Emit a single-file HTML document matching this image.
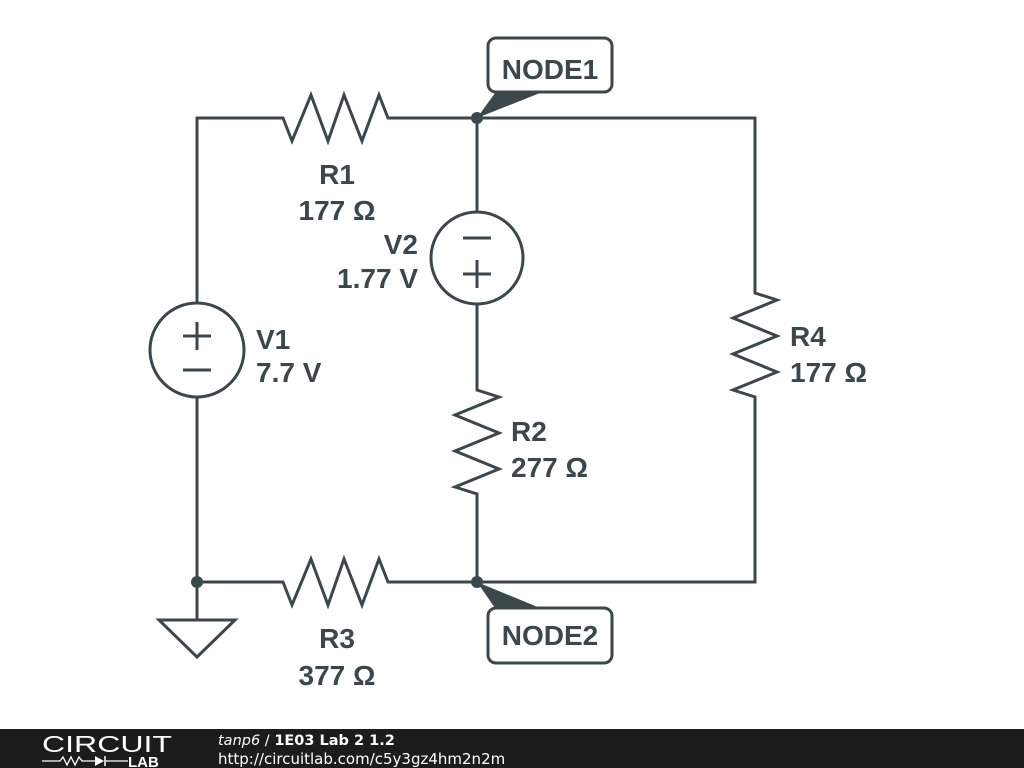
<!DOCTYPE html>
<html><head><meta charset="utf-8"><style>
html,body{margin:0;padding:0;background:#fff;width:1024px;height:768px;overflow:hidden}
svg{display:block}
.l{font-family:"Liberation Sans",Arial,sans-serif;font-weight:bold;font-size:28px;fill:#3c474c}
</style></head><body>
<svg width="1024" height="768" viewBox="0 0 1024 768">
<g fill="none" stroke="#3c474c" stroke-width="3" stroke-linejoin="miter">
<polyline points="197,303 197,118 283,118 292,141 311,95 328,141 344,95 362,141 379,95 388,118 755,118 755,293 777,300 733,318 777,336 733,354 777,372 733,390 755,397 755,582 388,582 379,559 362,605 344,559 328,605 311,559 292,605 283,582 197,582"/>
<line x1="197" y1="397" x2="197" y2="620"/>
<line x1="477" y1="118" x2="477" y2="212"/>
<polyline points="477,304 477,390 499,397 455,415 499,433 455,451 499,469 455,487 477,494 477,582"/>
<circle cx="197" cy="350" r="47"/>
<circle cx="477" cy="258" r="46"/>
<polygon points="159,620 235,620 197,657"/>
<line x1="183" y1="336" x2="211" y2="336"/><line x1="197" y1="322" x2="197" y2="350"/>
<line x1="183" y1="370" x2="211" y2="370"/>
<line x1="463" y1="238" x2="491" y2="238"/>
<line x1="463" y1="274" x2="491" y2="274"/><line x1="477" y1="260" x2="477" y2="288"/>
<rect x="488" y="38" width="124" height="54" rx="8"/>
<rect x="488" y="608" width="124" height="55" rx="8"/>
</g>
<g fill="#3c474c">
<circle cx="477" cy="118" r="6"/><circle cx="477" cy="582" r="6"/><circle cx="197" cy="582" r="6"/>
<polygon points="477,118 495,93 540,93"/>
<polygon points="477,582 495,608 540,608"/>
</g>
<text class="l" x="550" y="79" text-anchor="middle">NODE1</text>
<text class="l" x="550" y="645" text-anchor="middle">NODE2</text>
<text class="l" x="337" y="184" text-anchor="middle">R1</text>
<text class="l" x="337" y="220" text-anchor="middle">177 Ω</text>
<text class="l" x="418" y="254" text-anchor="end">V2</text>
<text class="l" x="418" y="288" text-anchor="end">1.77 V</text>
<text class="l" x="256" y="349">V1</text>
<text class="l" x="256" y="382">7.7 V</text>
<text class="l" x="511" y="441">R2</text>
<text class="l" x="511" y="477">277 Ω</text>
<text class="l" x="790" y="346">R4</text>
<text class="l" x="790" y="382">177 Ω</text>
<text class="l" x="337" y="648" text-anchor="middle">R3</text>
<text class="l" x="337" y="685" text-anchor="middle">377 Ω</text>
<rect x="0" y="729" width="1024" height="39" fill="#1c1c1c"/>
<text x="42" y="752" font-family="Liberation Sans,sans-serif" font-size="23" fill="#fff" textLength="130" lengthAdjust="spacingAndGlyphs">CIRCUIT</text>
<polyline points="42,761 60,761 63,757 67,765 71,757 75,765 79,757 82,761 95,761" fill="none" stroke="#fff" stroke-width="1.3"/>
<polygon points="95,756 95,766 104,761" fill="#fff"/>
<line x1="105" y1="756" x2="105" y2="766" stroke="#fff" stroke-width="1.5"/>
<line x1="105" y1="761" x2="128" y2="761" stroke="#fff" stroke-width="1.3"/>
<text x="128" y="767" font-family="Liberation Sans,sans-serif" font-size="15" font-weight="bold" fill="#fff">LAB</text>
<text x="218" y="745" font-family="DejaVu Sans,sans-serif" font-size="14.5" fill="#fff"><tspan font-style="italic">tanp6</tspan> / <tspan font-weight="bold">1E03 Lab 2 1.2</tspan></text>
<text x="218" y="764" font-family="DejaVu Sans,sans-serif" font-size="15" fill="#fff">http://circuitlab.com/c5y3gz4hm2n2m</text>
</svg>
</body></html>
